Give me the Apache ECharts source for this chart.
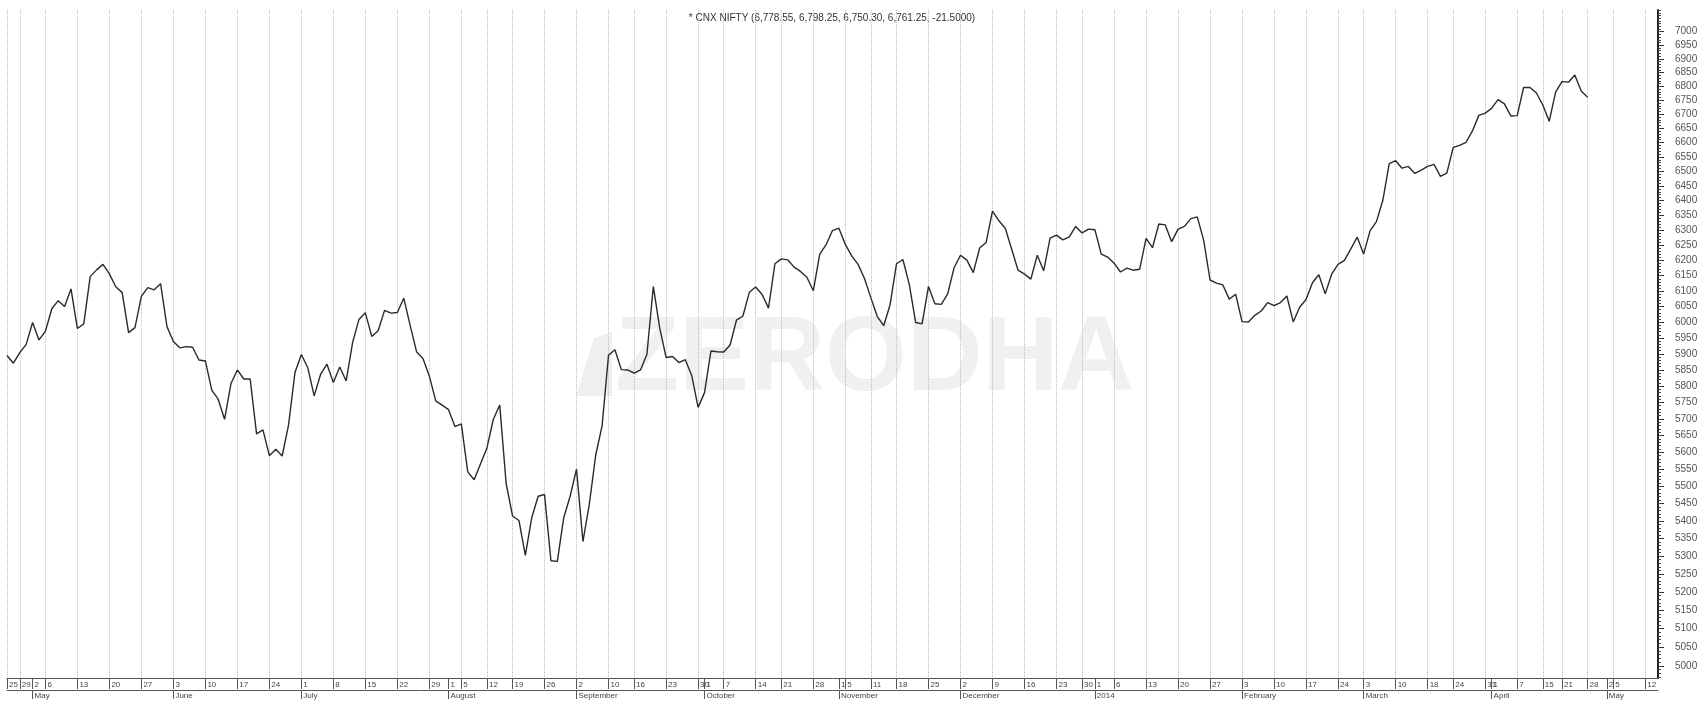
<!DOCTYPE html>
<html><head><meta charset="utf-8">
<script src="https://cdn.jsdelivr.net/npm/echarts@6/dist/echarts.min.js"></script>
<style>html,body{margin:0;padding:0;background:#fff}#c{width:1708px;height:703px}</style>
</head><body><div id="c"></div>
<script>
// Daily closes [day, close] by month (trading days only)
const apr2013 = [[25,5895],[26,5871],[29,5904],[30,5930]];
const may2013 = [[2,5999],[3,5944],[6,5971],[7,6043],[8,6069],[9,6050],[10,6107],[13,5980],[14,5995],[15,6147],[16,6169],[17,6187],[20,6156],[21,6114],[22,6095],[23,5967],[24,5983],[27,6083],[28,6111],[29,6104],[30,6124],[31,5986]];
const jun2013 = [[3,5939],[4,5919],[5,5923],[6,5921],[7,5881],[10,5878],[11,5788],[12,5760],[13,5699],[14,5808],[17,5850],[18,5822],[19,5822],[20,5655],[21,5667],[24,5590],[25,5609],[26,5589],[27,5682],[28,5842]];
const jul2013 = [[1,5898],[2,5857],[3,5770],[4,5836],[5,5868],[8,5811],[9,5859],[10,5816],[11,5935],[12,6009],[15,6030],[16,5955],[17,5973],[18,6038],[19,6029],[22,6031],[23,6077],[24,5990],[25,5907],[26,5886],[29,5831],[30,5755],[31,5742]];
const aug2013 = [[1,5728],[2,5677],[5,5685],[6,5542],[7,5519],[8,5566],[12,5613],[13,5699],[14,5742],[16,5508],[19,5414],[20,5401],[21,5302],[22,5409],[23,5471],[26,5476],[27,5287],[28,5285],[29,5409],[30,5471]];
const sep2013 = [[2,5550],[3,5341],[4,5448],[5,5592],[6,5680],[10,5896],[11,5913],[12,5851],[13,5850],[16,5840],[17,5850],[18,5899],[19,6115],[20,5981],[23,5889],[24,5892],[25,5873],[26,5882],[27,5833],[30,5735]];
const oct2013 = [[1,5780],[3,5909],[4,5907],[7,5906],[8,5928],[9,6007],[10,6020],[11,6096],[14,6113],[15,6089],[17,6045],[18,6189],[21,6205],[22,6202],[23,6178],[24,6164],[25,6145],[28,6101],[29,6220],[30,6252],[31,6299]];
const nov2013 = [[1,6307],[5,6253],[6,6215],[7,6187],[8,6141],[11,6078],[12,6018],[13,5989],[14,6056],[18,6189],[19,6203],[20,6122],[21,5999],[22,5995],[25,6115],[26,6059],[27,6057],[28,6091],[29,6176]];
const dec2013 = [[2,6217],[3,6201],[4,6160],[5,6241],[6,6259],[9,6364],[10,6332],[11,6307],[12,6237],[13,6168],[16,6155],[17,6139],[18,6217],[19,6166],[20,6274],[23,6284],[24,6268],[26,6278],[27,6313],[30,6291],[31,6304]];
const jan2014 = [[1,6302],[2,6221],[3,6211],[6,6191],[7,6162],[8,6175],[9,6168],[10,6171],[13,6273],[14,6242],[15,6321],[16,6318],[17,6262],[20,6304],[21,6313],[22,6339],[23,6345],[24,6267],[27,6136],[28,6126],[29,6120],[30,6074],[31,6090]];
const feb2014 = [[3,6002],[4,6001],[5,6022],[6,6036],[7,6063],[10,6053],[11,6063],[12,6084],[13,6001],[14,6048],[17,6073],[18,6127],[19,6153],[20,6091],[21,6155],[24,6187],[25,6200],[26,6238],[28,6277]];
const mar2014 = [[3,6221],[4,6298],[5,6329],[6,6401],[7,6527],[10,6537],[11,6511],[12,6517],[13,6493],[14,6504],[18,6517],[19,6524],[20,6483],[21,6494],[24,6583],[25,6590],[26,6601],[27,6641],[28,6696],[31,6704]];
const apr2014 = [[1,6721],[2,6752],[3,6737],[4,6694],[7,6695],[9,6796],[10,6796],[11,6776],[15,6733],[16,6675],[17,6779],[21,6817],[22,6815],[23,6841],[25,6783],[28,6761]];
// Empty future trading days on the axis
const blankDays = ['2014-04-29','2014-04-30','2014-05-02','2014-05-05','2014-05-06','2014-05-07','2014-05-08','2014-05-09','2014-05-12','2014-05-13','2014-05-14'];
const monthNames = ['January','February','March','April','May','June','July','August','September','October','November','December'];
const yTickLabels = [5000,5050,5100,5150,5200,5250,5300,5350,5400,5450,5500,5550,5600,5650,5700,5750,5800,5850,5900,5950,6000,6050,6100,6150,6200,6250,6300,6350,6400,6450,6500,6550,6600,6650,6700,6750,6800,6850,6900,6950,7000];
const titleText = '* CNX NIFTY (6,778.55, 6,798.25, 6,750.30, 6,761.25, -21.5000)';

const monthBlocks = [['2013-04',apr2013],['2013-05',may2013],['2013-06',jun2013],['2013-07',jul2013],['2013-08',aug2013],['2013-09',sep2013],['2013-10',oct2013],['2013-11',nov2013],['2013-12',dec2013],['2014-01',jan2014],['2014-02',feb2014],['2014-03',mar2014],['2014-04',apr2014]];

const dates = [], closes = [];
monthBlocks.forEach(([ym, arr]) => arr.forEach(([d, v]) => { dates.push(ym + '-' + String(d).padStart(2,'0')); closes.push(v); }));
blankDays.forEach(d => dates.push(d));

const minorTicks = [];
for (let v = 4970; v <= 7080; v += 10) minorTicks.push(v);

const t = dates.map(s => Date.parse(s + 'T00:00:00Z'));
const dow = t.map(x => new Date(x).getUTCDay());
const isWeekStart = dates.map((s, i) => i === 0 || dow[i] <= dow[i-1] || (t[i]-t[i-1]) >= 7*864e5);
const isMonthStart = dates.map((s, i) => i > 0 && s.slice(0,7) !== dates[i-1].slice(0,7));
const isSep = dates.map((s, i) => isWeekStart[i] || isMonthStart[i]);
const monthLabel = dates.map(s => { const m = +s.slice(5,7); return m === 1 ? s.slice(0,4) : monthNames[m-1]; });

const FONT = '"Liberation Sans", Arial, sans-serif';
const chart = echarts.init(document.getElementById('c'), null, {renderer:'canvas'});
chart.setOption({
  animation: false,
  backgroundColor: '#fff',
  grid: {left: 7, right: 50, top: 10, bottom: 25, containLabel: false},
  graphic: [
    {type:'polygon', z:-1, shape:{points:[[576,396],[594,338],[612,332],[612,396]]}, style:{fill:'#efefef'}},
    {type:'text', z:-1, x:615, y:361, style:{text:'ZERODHA', font:'bold 105px ' + FONT, fill:'#f0f0f0', textAlign:'left', textVerticalAlign:'middle'}},
    {type:'text', x:832, y:18, style:{text:titleText, font:'10px ' + FONT, fill:'#333', textAlign:'center', textVerticalAlign:'middle'}}
  ],
  xAxis: [
    {
      type:'category', data:dates, boundaryGap:false, position:'bottom',
      axisLine:{show:true, lineStyle:{color:'#555', width:1}},
      axisTick:{show:true, interval:(i)=>isSep[i], length:11, lineStyle:{color:'#555'}},
      axisLabel:{interval:(i)=>isSep[i], formatter:(v)=>String(+v.slice(8)), align:'left', margin:3, fontSize:8, color:'#444', padding:[0,0,0,2], fontFamily:FONT},
      splitLine:{show:true, interval:(i)=>isWeekStart[i], lineStyle:{type:'dotted', color:'#bdbdbd', width:1}}
    },
    {
      type:'category', data:dates, boundaryGap:false, position:'bottom', offset:12,
      axisLine:{show:true, lineStyle:{color:'#555', width:1}},
      axisTick:{show:true, interval:(i)=>isMonthStart[i], length:9, lineStyle:{color:'#555'}},
      axisLabel:{interval:(i)=>isMonthStart[i], formatter:(v,i)=>monthLabel[i], align:'left', margin:2, fontSize:8, color:'#444', padding:[0,0,0,2], fontFamily:FONT},
      splitLine:{show:false}
    }
  ],
  yAxis: [
    {
      type:'log', logBase:10, min:4968, max:7081, position:'right',
      axisLine:{show:true, lineStyle:{color:'#222', width:2}},
      axisTick:{show:true, customValues:yTickLabels, length:6, lineStyle:{color:'#333'}},
      axisLabel:{show:true, customValues:yTickLabels, margin:17, fontSize:10, color:'#555', fontFamily:FONT, formatter:(v)=>String(Math.round(v))},
      splitLine:{show:false}
    },
    {
      type:'log', logBase:10, min:4968, max:7081, position:'right',
      axisLine:{show:false},
      axisTick:{show:true, customValues:minorTicks, length:3, lineStyle:{color:'#444'}},
      axisLabel:{show:false},
      splitLine:{show:false}
    }
  ],
  series: [{
    type:'line', xAxisIndex:0, yAxisIndex:0, data:closes, showSymbol:false, symbol:'none',
    lineStyle:{color:'#2a2a2a', width:1.4}, z:3
  }]
});
</script></body></html>
